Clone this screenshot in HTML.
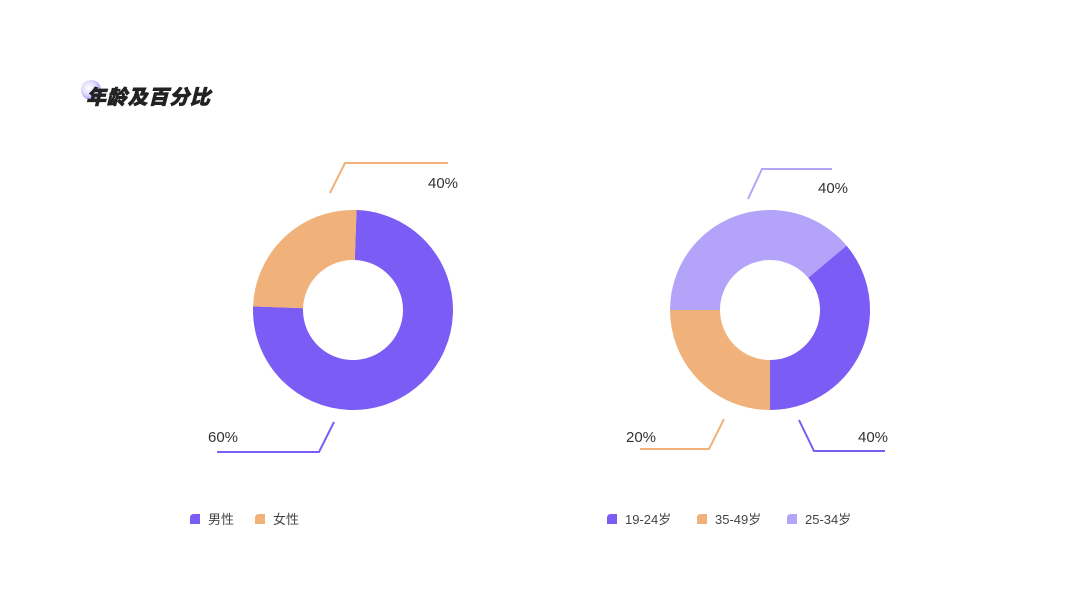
<!DOCTYPE html>
<html><head><meta charset="utf-8"><style>
body{margin:0;background:#fff;}
svg text{font-family:"Liberation Sans","Noto Sans CJK SC",sans-serif;}
</style></head><body>
<svg width="1067" height="600" viewBox="0 0 1067 600" xmlns="http://www.w3.org/2000/svg">
<defs><radialGradient id="g" cx="0.4" cy="0.4" r="0.6"><stop offset="0" stop-color="#fff"/><stop offset="0.6" stop-color="#d9d0fb"/><stop offset="1" stop-color="#8e78f5"/></radialGradient></defs>
<circle cx="91" cy="90" r="10" fill="url(#g)" opacity="0.8"/>
<text x="86" y="104" font-size="20" font-weight="900" font-style="italic" fill="#222" stroke="#222" stroke-width="0.6" style="font-family:'Noto Sans CJK SC',sans-serif" textLength="124">年龄及百分比</text>

<!-- donut 1 -->
<g fill="none" stroke-width="50">
<circle cx="353" cy="310" r="75" stroke="#7b5cf5" stroke-dasharray="353.4 1000" transform="rotate(-88 353 310)"/>
<circle cx="353" cy="310" r="75" stroke="#f0b27a" stroke-dasharray="117.8 1000" transform="rotate(182 353 310)"/>
</g>
<polyline points="330,193 345,163 448,163" fill="none" stroke="#f0b27a" stroke-width="2"/>
<polyline points="334,422 319,452 217,452" fill="none" stroke="#7b5cf5" stroke-width="2"/>
<text x="428" y="188" font-size="15" fill="#333">40%</text>
<text x="208" y="442" font-size="15" fill="#333">60%</text>

<!-- donut 2 -->
<g fill="none" stroke-width="50">
<circle cx="770" cy="310" r="75" stroke="#b3a4f9" stroke-dasharray="183.3 1000" transform="rotate(180 770 310)"/>
<circle cx="770" cy="310" r="75" stroke="#7b5cf5" stroke-dasharray="170.2 1000" transform="rotate(320 770 310)"/>
<circle cx="770" cy="310" r="75" stroke="#f0b27a" stroke-dasharray="117.8 1000" transform="rotate(90 770 310)"/>
</g>
<polyline points="748,199 762,169 832,169" fill="none" stroke="#b3a4f9" stroke-width="2"/>
<polyline points="724,419 709,449 640,449" fill="none" stroke="#f0b27a" stroke-width="2"/>
<polyline points="799,420 814,451 885,451" fill="none" stroke="#7b5cf5" stroke-width="2"/>
<text x="818" y="193" font-size="15" fill="#333">40%</text>
<text x="626" y="442" font-size="15" fill="#333">20%</text>
<text x="858" y="442" font-size="15" fill="#333">40%</text>

<!-- legends -->
<g font-size="13" fill="#444">
<path d="M190 524 V518 Q190 514 194 514 H200 V524 Z" fill="#7b5cf5"/><text x="208" y="524">男性</text>
<path d="M255 524 V518 Q255 514 259 514 H265 V524 Z" fill="#f0b27a"/><text x="273" y="524">女性</text>
<path d="M607 524 V518 Q607 514 611 514 H617 V524 Z" fill="#7b5cf5"/><text x="625" y="524">19-24岁</text>
<path d="M697 524 V518 Q697 514 701 514 H707 V524 Z" fill="#f0b27a"/><text x="715" y="524">35-49岁</text>
<path d="M787 524 V518 Q787 514 791 514 H797 V524 Z" fill="#b3a4f9"/><text x="805" y="524">25-34岁</text>
</g>
</svg>
</body></html>
